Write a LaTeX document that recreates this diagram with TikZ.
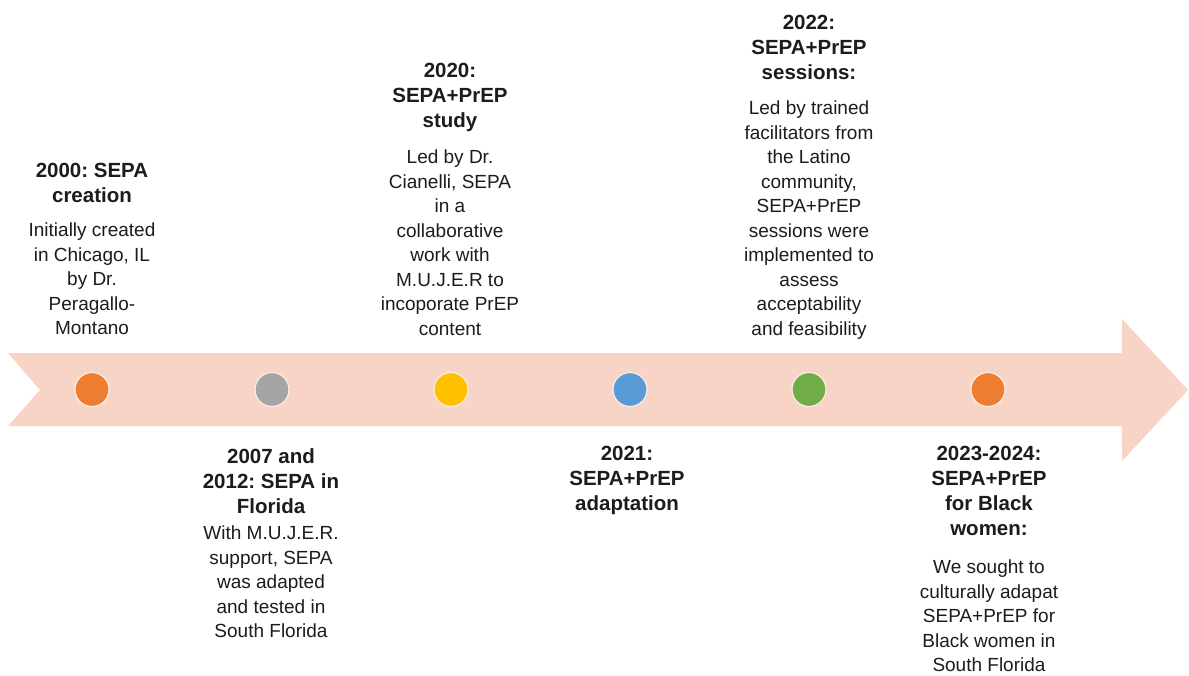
\documentclass[tikz,border=0pt]{standalone}
\usepackage{fontspec}
\setmainfont{Liberation Sans}
\definecolor{band}{RGB}{248,212,199}
\definecolor{txt}{RGB}{28,28,28}
\definecolor{dotrim}{RGB}{252,236,228}
\definecolor{cOrange}{RGB}{237,125,49}
\definecolor{cGray}{RGB}{165,165,165}
\definecolor{cYellow}{RGB}{255,192,0}
\definecolor{cBlue}{RGB}{91,155,213}
\definecolor{cGreen}{RGB}{112,173,71}
\frenchspacing
\begin{document}
\begin{tikzpicture}[x=1pt,y=-1pt,
  ttl/.style={font=\fontsize{20.5}{25}\selectfont\bfseries\frenchspacing, align=center, anchor=north, inner sep=0pt, text=txt},
  bdy/.style={font=\fontsize{19}{24.5}\selectfont\frenchspacing, align=center, anchor=north, inner sep=0pt, text=txt},
  dot/.style={circle, minimum size=34pt, inner sep=0pt, draw=dotrim, line width=1.2pt}]
\useasboundingbox[fill=white] (0,0) rectangle (1189,675);
% timeline arrow
\fill[band] (8,353) -- (1122,353) -- (1122,319) -- (1188,390) -- (1122,461)
  -- (1122,426) -- (8,426) -- (40,390) -- cycle;
% dots
\node[dot, fill=cOrange] (d1) at (92,389.5) {};
\node[dot, fill=cGray]   (d2) at (272,389.5) {};
\node[dot, fill=cYellow] (d3) at (451,389.5) {};
\node[dot, fill=cBlue]   (d4) at (630,389.5) {};
\node[dot, fill=cGreen]  (d5) at (809,389.5) {};
\node[dot, fill=cOrange] (d6) at (988,389.5) {};
% 2000
\node[ttl] (t1) at (92,163) {2000: SEPA\\creation};
\node[bdy] (b1) at (92,223) {Initially created\\in Chicago, IL\\by Dr.\\Peragallo-\\Montano};
% 2007
\node[ttl] (t2) at (271,448) {2007 and\\2012: SEPA in\\Florida};
\node[bdy] (b2) at (271,526) {With M.U.J.E.R.\\support, SEPA\\was adapted\\and tested in\\South Florida};
% 2020
\node[ttl] (t3) at (450,63) {2020:\\SEPA+PrEP\\study};
\node[bdy] (b3) at (450,150) {Led by Dr.\\Cianelli, SEPA\\in a\\collaborative\\work with\\M.U.J.E.R to\\incoporate PrEP\\content};
% 2021
\node[ttl] (t4) at (627,446) {2021:\\SEPA+PrEP\\adaptation};
% 2022
\node[ttl] (t5) at (809,15) {2022:\\SEPA+PrEP\\sessions:};
\node[bdy] (b5) at (809,101) {Led by trained\\facilitators from\\the Latino\\community,\\SEPA+PrEP\\sessions were\\implemented to\\assess\\acceptability\\and feasibility};
% 2023-2024
\node[ttl] (t6) at (989,446) {2023-2024:\\SEPA+PrEP\\for Black\\women:};
\node[bdy] (b6) at (989,560) {We sought to\\culturally adapat\\SEPA+PrEP for\\Black women in\\South Florida};
\end{tikzpicture}
\end{document}
